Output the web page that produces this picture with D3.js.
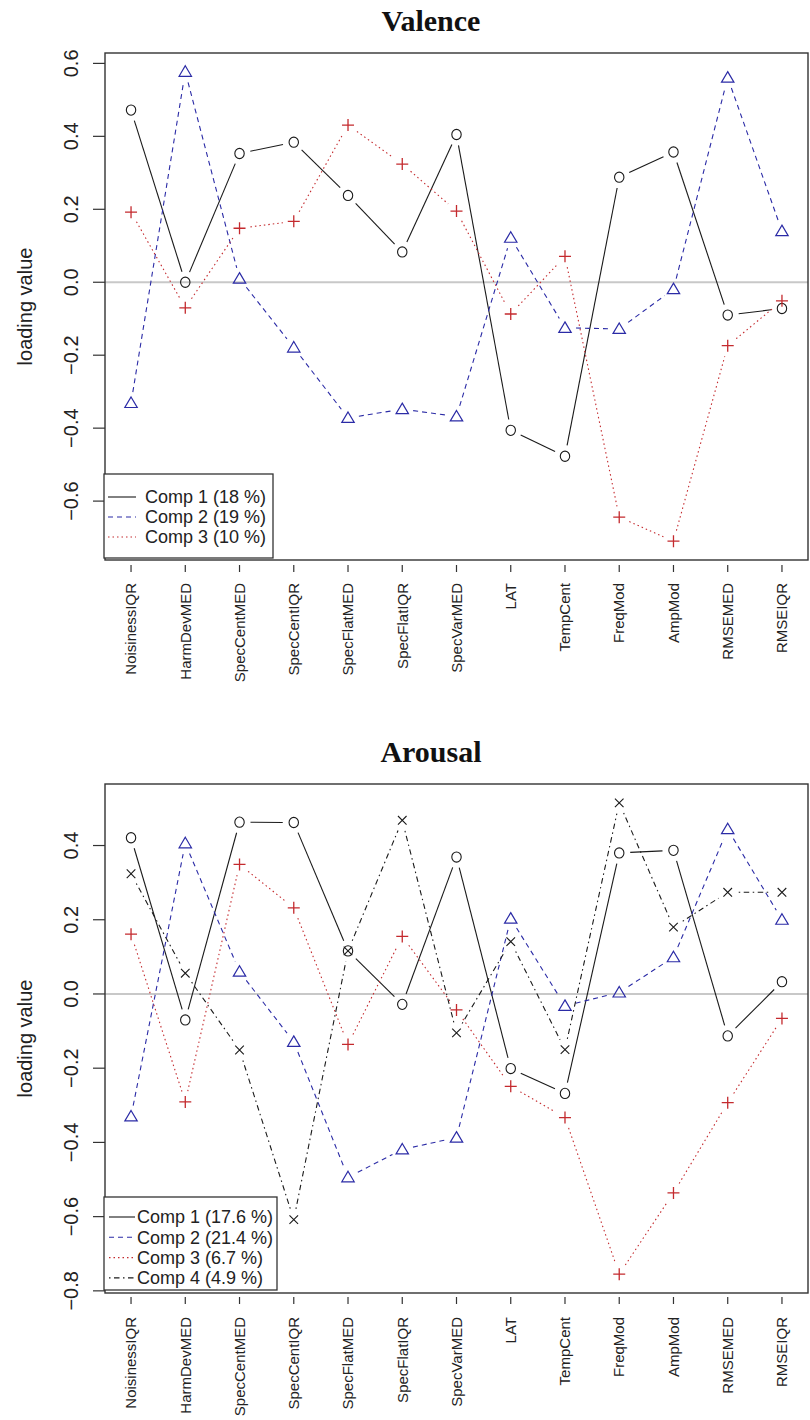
<!DOCTYPE html>
<html>
<head>
<meta charset="utf-8">
<script src="https://cdn.jsdelivr.net/npm/d3@7"></script>
<style>
  html, body { margin: 0; padding: 0; background: #fff; }
  svg { display: block; }
</style>
</head>
<body>
<svg id="chart" width="810" height="1420"></svg>
<script>
// Feature names on the x axis (shared by both panels)
const categories = ["NoisinessIQR", "HarmDevMED", "SpecCentMED", "SpecCentIQR", "SpecFlatMED",
  "SpecFlatIQR", "SpecVarMED", "LAT", "TempCent", "FreqMod", "AmpMod", "RMSEMED", "RMSEIQR"];

// Valence loadings
const valenceComp1 = [0.472, 0.000, 0.353, 0.384, 0.238, 0.083, 0.405, -0.406, -0.477, 0.288, 0.357, -0.090, -0.072];
const valenceComp2 = [-0.331, 0.577, 0.010, -0.179, -0.372, -0.348, -0.368, 0.122, -0.125, -0.128, -0.019, 0.561, 0.140];
const valenceComp3 = [0.192, -0.070, 0.148, 0.167, 0.431, 0.324, 0.195, -0.087, 0.071, -0.644, -0.710, -0.174, -0.051];
const valenceLegend = ["Comp 1 (18 %)", "Comp 2 (19 %)", "Comp 3 (10 %)"];
const valenceTicks = [0.6, 0.4, 0.2, 0.0, -0.2, -0.4, -0.6];

// Arousal loadings
const arousalComp1 = [0.421, -0.070, 0.463, 0.462, 0.116, -0.028, 0.369, -0.201, -0.268, 0.380, 0.387, -0.113, 0.033];
const arousalComp2 = [-0.330, 0.406, 0.060, -0.129, -0.494, -0.419, -0.387, 0.203, -0.032, 0.004, 0.099, 0.444, 0.200];
const arousalComp3 = [0.161, -0.291, 0.349, 0.232, -0.136, 0.155, -0.043, -0.249, -0.333, -0.755, -0.536, -0.293, -0.066];
const arousalComp4 = [0.324, 0.056, -0.151, -0.608, 0.116, 0.468, -0.105, 0.141, -0.150, 0.515, 0.180, 0.274, 0.274];
const arousalLegend = ["Comp 1 (17.6 %)", "Comp 2 (21.4 %)", "Comp 3 (6.7 %)", "Comp 4 (4.9 %)"];
const arousalTicks = [0.4, 0.2, 0.0, -0.2, -0.4, -0.6, -0.8];

// Line / symbol styles per component
const styles = [
  { color: "#1a1a1a", dash: null, symbol: "circle" },
  { color: "#2b2ba6", dash: "5,4", symbol: "triangle" },
  { color: "#c42a2e", dash: "1.5,3", symbol: "plus" },
  { color: "#1a1a1a", dash: "1.5,3.5,5.5,3.5", symbol: "cross" }
];

const sans = "'Liberation Sans', Arial, Helvetica, sans-serif";
const serif = "'Liberation Serif', 'Times New Roman', serif";
const svg = d3.select("#chart");

const left = 105, right = 808;
const x = d3.scalePoint().domain(categories).range([left, right]).padding(0.48);

function symbolPath(g, kind, cx, cy, color) {
  if (kind === "circle") {
    g.append("ellipse").attr("cx", cx).attr("cy", cy).attr("rx", 4.7).attr("ry", 5.1)
      .attr("fill", "none").attr("stroke", color).attr("stroke-width", 1.1);
  } else if (kind === "triangle") {
    g.append("path").attr("d", `M${cx},${cy - 6}L${cx + 6.2},${cy + 4.5}L${cx - 6.2},${cy + 4.5}Z`)
      .attr("fill", "none").attr("stroke", color).attr("stroke-width", 1.2);
  } else if (kind === "plus") {
    g.append("path").attr("d", `M${cx - 6},${cy}H${cx + 6}M${cx},${cy - 6}V${cx === cx ? cy + 6 : 0}`)
      .attr("fill", "none").attr("stroke", color).attr("stroke-width", 1.3);
  } else {
    g.append("path").attr("d", `M${cx - 4.3},${cy - 4.3}L${cx + 4.3},${cy + 4.3}M${cx - 4.3},${cy + 4.3}L${cx + 4.3},${cy - 4.3}`)
      .attr("fill", "none").attr("stroke", color).attr("stroke-width", 1.1);
  }
}

function drawPanel(cfg) {
  const { title, series, ticks, legend, titleY, top, bottom, tickGap, tickLen, labelGap, lg } = cfg;
  const all = series.flat();
  const [mn, mx] = d3.extent(all);
  const pad = (mx - mn) * 0.04;
  const y = d3.scaleLinear().domain([mn - pad, mx + pad]).range([bottom, top]);
  const g = svg.append("g");

  // title
  g.append("text").attr("x", 431).attr("y", titleY).attr("text-anchor", "middle")
    .attr("font-family", serif).attr("font-weight", "bold").attr("font-size", 30)
    .attr("fill", "#111").text(title);

  // zero reference line
  g.append("line").attr("x1", left).attr("x2", right).attr("y1", y(0)).attr("y2", y(0))
    .attr("stroke", "#c8c8c8").attr("stroke-width", 2);

  // series: lines broken around each symbol, then the symbols
  const gap = 11;
  series.forEach((vals, si) => {
    const st = styles[si];
    const pts = vals.map((v, i) => [x(categories[i]), y(v)]);
    const lg2 = g.append("g");
    for (let i = 0; i < pts.length - 1; i++) {
      const [x0, y0] = pts[i], [x1, y1] = pts[i + 1];
      const dx = x1 - x0, dy = y1 - y0, d = Math.hypot(dx, dy);
      if (d <= 2 * gap) continue;
      const ux = dx / d, uy = dy / d;
      const ln = lg2.append("line")
        .attr("x1", x0 + ux * gap).attr("y1", y0 + uy * gap)
        .attr("x2", x1 - ux * gap).attr("y2", y1 - uy * gap)
        .attr("stroke", st.color).attr("stroke-width", 1.1);
      if (st.dash) ln.attr("stroke-dasharray", st.dash);
    }
    pts.forEach(([px, py]) => symbolPath(g, st.symbol, px, py, st.color));
  });

  // plot frame
  g.append("rect").attr("x", left).attr("y", top).attr("width", right - left).attr("height", bottom - top)
    .attr("fill", "none").attr("stroke", "#333").attr("stroke-width", 1.4);

  // y axis
  const yAxis = g.append("g");
  ticks.forEach(t => {
    yAxis.append("line").attr("x1", left - 12).attr("x2", left).attr("y1", y(t)).attr("y2", y(t))
      .attr("stroke", "#333").attr("stroke-width", 1.2);
    yAxis.append("text").attr("transform", `translate(78,${y(t)}) rotate(-90)`)
      .attr("text-anchor", "middle").attr("font-family", sans).attr("font-size", 20)
      .attr("fill", "#222").text(d3.format(".1f")(t).replace("-", "\u2212"));
  });
  g.append("text").attr("transform", `translate(32,${(top + bottom) / 2}) rotate(-90)`)
    .attr("text-anchor", "middle").attr("font-family", sans).attr("font-size", 20)
    .attr("fill", "#222").text("loading value");

  // x axis: detached ticks and rotated labels
  categories.forEach(c => {
    g.append("line").attr("x1", x(c)).attr("x2", x(c))
      .attr("y1", bottom + tickGap).attr("y2", bottom + tickGap + tickLen)
      .attr("stroke", "#333").attr("stroke-width", 1.2);
    g.append("text").attr("transform", `translate(${x(c)},${bottom + tickGap + tickLen + labelGap}) rotate(-90)`)
      .attr("text-anchor", "end").attr("dy", "0.35em").attr("font-family", sans)
      .attr("font-size", 15).attr("fill", "#222").text(c);
  });

  // legend
  const L = g.append("g");
  L.append("rect").attr("x", lg.x0).attr("y", lg.y0).attr("width", lg.x1 - lg.x0).attr("height", lg.y1 - lg.y0)
    .attr("fill", "#fff").attr("stroke", "#333").attr("stroke-width", 1.3);
  legend.forEach((lab, i) => {
    const ry = lg.rowY + i * lg.rowStep;
    const st = styles[i];
    const sl = L.append("line").attr("x1", lg.s0).attr("x2", lg.s1).attr("y1", ry).attr("y2", ry)
      .attr("stroke", st.color).attr("stroke-width", 1.1);
    if (st.dash) sl.attr("stroke-dasharray", st.dash);
    L.append("text").attr("x", lg.tx).attr("y", ry + 0.35 * 18).attr("font-family", sans)
      .attr("font-size", 18).attr("fill", "#222").text(lab);
  });
}

drawPanel({
  title: "Valence",
  series: [valenceComp1, valenceComp2, valenceComp3],
  ticks: valenceTicks, legend: valenceLegend,
  titleY: 31, top: 53, bottom: 560, tickGap: 5, tickLen: 7, labelGap: 11,
  lg: { x0: 104, x1: 273, y0: 474, y1: 558, rowY: 497, rowStep: 20, s0: 108, s1: 136, tx: 145 }
});

drawPanel({
  title: "Arousal",
  series: [arousalComp1, arousalComp2, arousalComp3, arousalComp4],
  ticks: arousalTicks, legend: arousalLegend,
  titleY: 762, top: 784, bottom: 1293, tickGap: 4, tickLen: 7, labelGap: 13,
  lg: { x0: 104, x1: 277, y0: 1197, y1: 1290, rowY: 1217, rowStep: 20.3, s0: 109, s1: 135, tx: 137 }
});
</script>
</body>
</html>
